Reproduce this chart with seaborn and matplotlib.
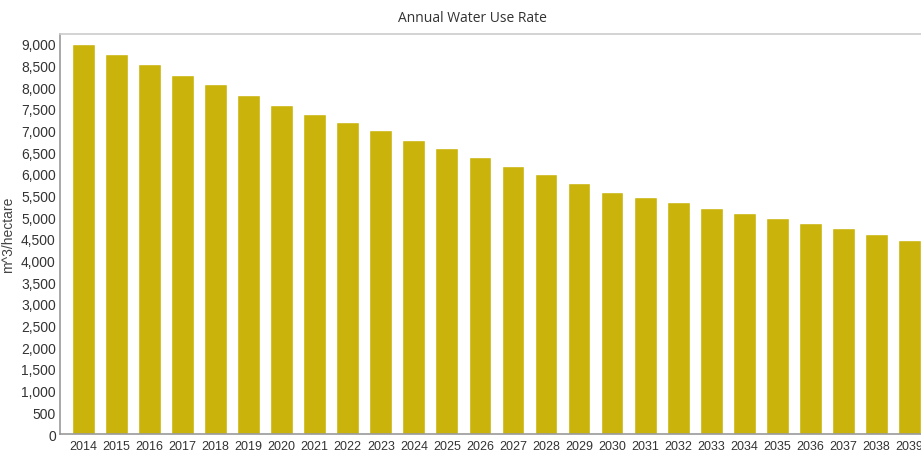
import matplotlib
matplotlib.use("Agg")
import matplotlib.pyplot as plt
import seaborn as sns
import pandas as pd
from matplotlib.ticker import FuncFormatter, MultipleLocator

years = [str(y) for y in range(2014, 2040)]
water_use = [9000, 8760, 8530, 8290, 8060, 7820, 7590, 7390, 7190, 7000,
             6790, 6590, 6390, 6190, 5990, 5790, 5590, 5470, 5350, 5220,
             5100, 4980, 4860, 4740, 4610, 4480]

df = pd.DataFrame({'Year': years, 'Rate': water_use})

sns.set_style('white')
fig = plt.figure(figsize=(9.21, 4.52), dpi=100)
ax = fig.add_axes([0.0651, 0.0376, 0.9349, 0.886])

sns.barplot(x='Year', y='Rate', data=df, color='#CAB30A', width=0.69,
            saturation=1, ax=ax)

ax.set_xlim(-0.71, 25.35)
ax.set_ylim(0, 9235)
ax.yaxis.set_major_locator(MultipleLocator(500))
ax.yaxis.set_major_formatter(FuncFormatter(lambda v, p: f'{int(v):,}'))

ax.set_xlabel('')
ax.set_ylabel('m^3/hectare', fontsize=10, family='Liberation Sans',
              color='#444444', labelpad=4)
ax.tick_params(axis='both', length=0, colors='#333333')
ax.tick_params(axis='y', labelsize=10, pad=3)
ax.tick_params(axis='x', labelsize=9, pad=4)
for lab in ax.get_yticklabels():
    lab.set_family('Liberation Sans')
for lab in ax.get_xticklabels():
    lab.set_family(['Liberation Sans Narrow', 'Liberation Sans'])

ax.spines['right'].set_visible(False)
ax.spines['left'].set_color('#999999')
ax.spines['bottom'].set_color('#999999')
ax.spines['top'].set_color('#cccccc')
for s in ['left', 'bottom', 'top']:
    ax.spines[s].set_linewidth(1.2)

fig.text(472 / 921, 1 - 18 / 452, 'Annual Water Use Rate', ha='center',
         va='center', fontsize=10, family='Open Sans', color='#333333')

fig.savefig('out.png', dpi=100)
